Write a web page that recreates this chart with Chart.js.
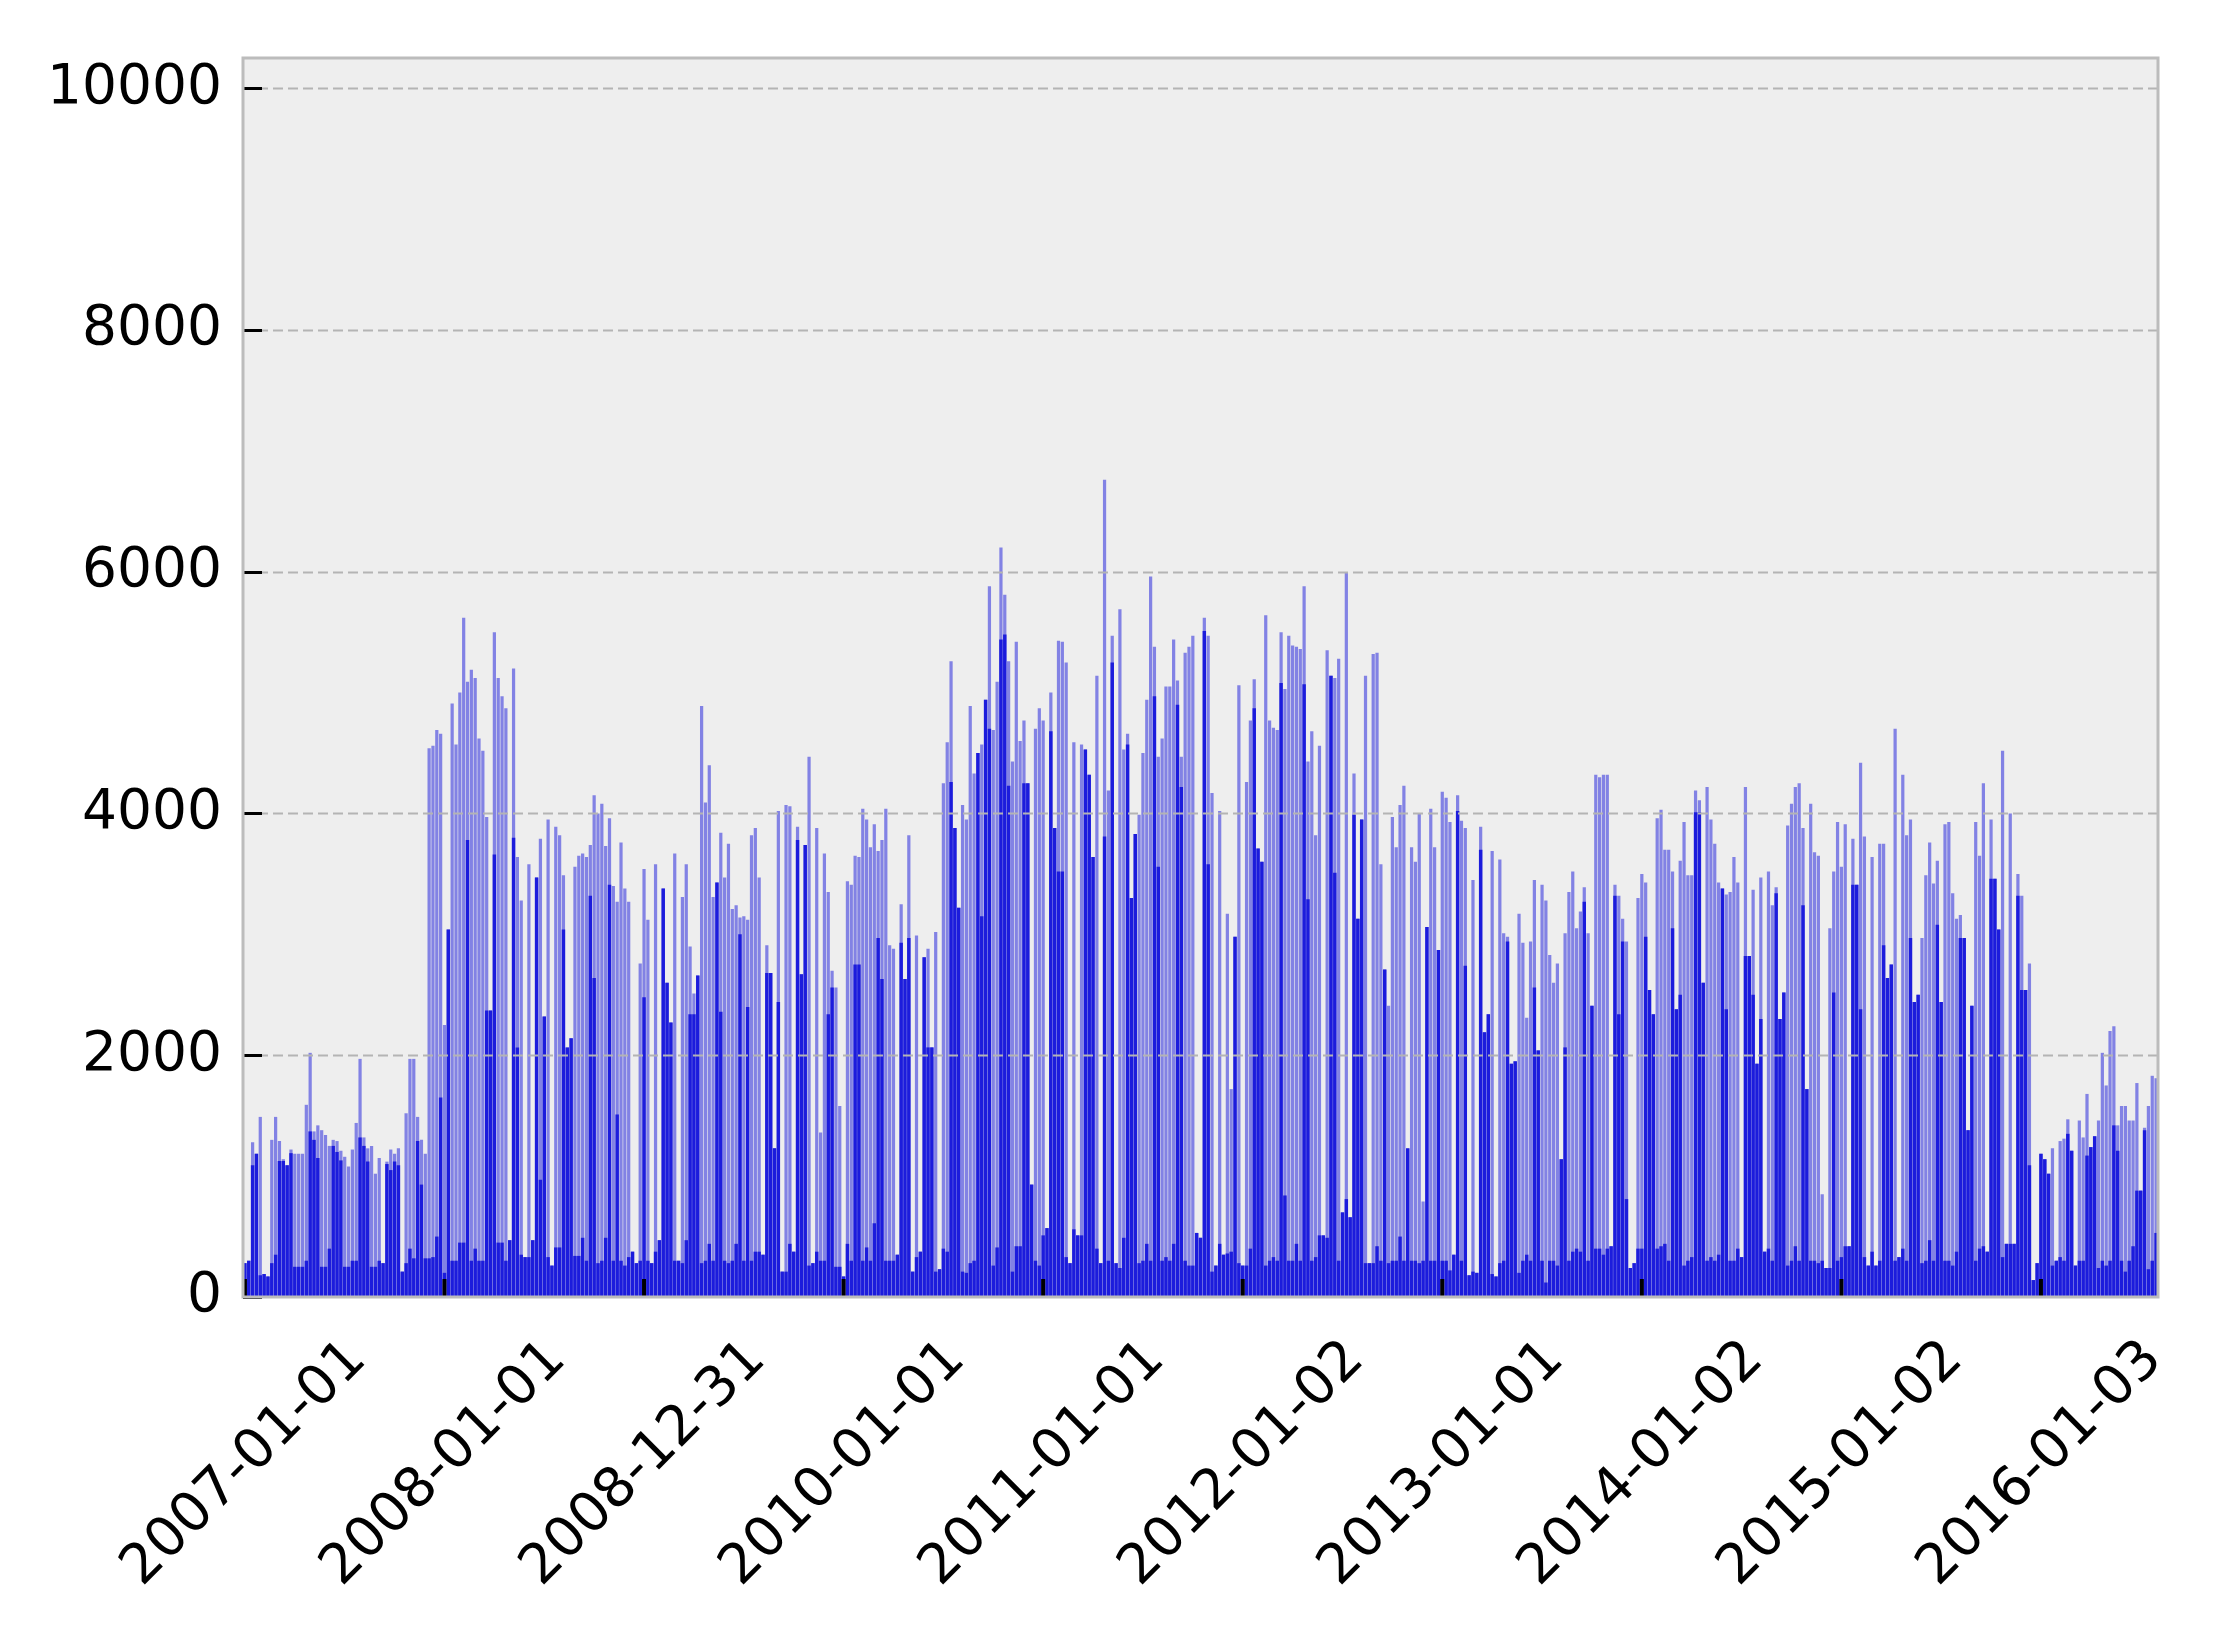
<!DOCTYPE html>
<html>
<head>
<meta charset="utf-8">
<script src="https://cdn.jsdelivr.net/npm/chart.js@4.4.1/dist/chart.umd.min.js"></script>
<style>
html,body{margin:0;padding:0;background:#ffffff;}
#wrap{width:2220px;height:1638px;}
</style>
</head>
<body>
<div id="wrap"><canvas id="c" width="2220" height="1638"></canvas></div>
<script>
// x tick labels (one every 52 weekly bars)
const tickLabels = ["2007-01-01","2008-01-01","2008-12-31","2010-01-01","2011-01-01",
                    "2012-01-02","2013-01-01","2014-01-02","2015-01-02","2016-01-03"];
const tickEvery = 52;
const yTicks = [0, 2000, 4000, 6000, 8000, 10000];

// peak (light) value of each bar
const peakValues = [
280,300,1280,1185,1490,190,170,1300,1490,1290,1140,1090,1220,1185,1185,1185,1590,2020,1370,1420,
1380,1340,1250,1300,1290,1210,1160,1080,1220,1440,1970,1320,1230,1250,1020,1150,280,1120,1220,1185,
1230,210,1520,1970,1970,1490,1300,1185,4540,4560,4690,4660,2250,3040,4910,4570,5000,5620,5090,5190,
5120,4620,4520,3970,2370,5500,5120,4970,4870,470,5200,
3640,3280,330,3580,470,3470,3790,2320,3950,260,3890,3820,3490,2065,2140,3560,3650,3670,3640,3740,
4150,4000,4080,3730,3960,3400,3270,3760,3380,3270,375,280,2760,3540,3120,280,3580,470,3380,2600,
2270,3670,300,3310,3580,2900,2510,2660,4890,4090,4400,3310,3430,3840,3470,3750,3210,3240,3140,3150,
3120,3820,3880,3470,350,2910,2680,1230,4020,210,4070,
4060,375,3890,2670,3740,4470,280,3880,1360,3670,3350,2700,2560,1580,170,3440,3410,3650,3640,4040,
3950,3720,3910,3690,3780,4040,2910,2880,350,3250,2630,3820,210,2990,375,2810,2880,2065,3020,230,
4250,4590,5260,3880,3220,4070,3950,4890,4330,4500,4570,4940,5880,4690,5090,6200,5810,5260,4430,5420,
4600,4770,4250,930,4700,4870,4770,570,5000,3880,5430,
5420,5250,280,4590,510,4570,4530,4320,3640,5140,280,6760,4190,5470,280,5690,4530,4660,3300,3830,
3990,4500,4940,5960,5380,4470,4620,5050,5050,5440,5100,4470,5330,5380,5470,530,490,5620,5470,4170,
260,4020,350,3170,1720,2980,5060,260,4260,4770,5110,3710,3600,5640,4770,4710,4690,5500,5030,5470,
5390,5380,5360,5880,4430,4680,3820,4560,510,5350,5140,
5120,5280,700,5990,660,4330,3130,3950,5140,280,5320,5330,3580,2710,2410,3970,3720,4070,4230,1230,
3720,3600,4000,790,3060,4040,3720,2870,4180,4130,3930,350,4150,3940,3880,180,3450,200,3890,2190,
2340,3690,170,3620,3010,2980,1930,1950,3170,2930,2310,2940,3450,2040,3410,3280,2830,2600,2760,1140,
3010,3350,3520,3050,3190,3390,3010,2410,4320,4300,4320,
4320,420,3410,3320,3130,2940,240,280,3300,3500,3430,2540,2340,3960,4030,3700,3700,3520,2380,3610,
3930,3490,3490,4190,4110,2600,4220,3950,3750,3430,3380,3330,3350,3640,3430,330,4220,2820,3370,1930,
3470,375,3520,3240,3390,2300,2520,3900,4080,4220,4250,3880,1720,4080,3680,3650,850,240,3050,3520,
3930,3560,3910,420,3790,3410,4420,3810,260,3640,260,3750,
3750,2640,2750,4700,330,4320,3820,3950,2440,2500,2970,3490,3760,3420,3610,2440,3910,3930,3340,3130,
3160,2970,1380,2410,3930,3650,4250,375,3950,3460,3040,4520,440,4000,440,3500,3320,2540,2760,140,
280,1185,1140,1020,1230,300,1290,1310,1470,1210,260,1460,1320,1680,1240,1330,1460,2020,1750,2200,
2240,1420,1580,1580,1460,1460,1770,880,1400,1580,1830,1810
];

// dense (dark) part of each bar
const baseValues = [
280,300,1090,1185,180,190,170,280,350,1125,1125,1090,1190,250,250,250,300,1370,1300,1150,
250,250,400,1250,1200,1130,250,250,300,300,1320,1250,1120,250,250,300,280,1100,1050,1120,
1090,210,280,400,320,1290,930,320,320,330,500,1650,200,3040,300,300,450,450,3780,300,
400,300,300,2370,2370,3660,450,450,300,470,3800,
2065,350,330,330,470,3470,970,2320,330,260,410,410,3040,2065,2140,340,340,490,300,3320,
2640,280,300,490,3410,300,1510,300,260,330,375,280,300,2480,300,280,375,470,3380,2600,
2270,300,300,280,470,2340,2340,2660,280,300,440,300,3430,2360,300,280,300,440,3000,300,
2400,300,375,375,350,2680,2680,1230,2440,210,210,
440,375,3780,2670,3740,260,280,375,300,300,2340,2560,250,250,170,440,300,2750,2750,300,
410,300,610,2970,2630,300,300,300,350,2930,2630,2970,210,330,375,2810,2065,2065,210,230,
400,375,4260,3880,3220,210,200,280,300,4500,3150,4940,4700,260,410,5440,5480,4230,210,420,
420,4250,4250,930,300,260,510,570,4680,3880,3520,
3520,330,280,560,510,510,4530,4320,3640,400,280,3810,300,5250,280,240,490,4570,3300,3830,
280,300,440,300,4970,3560,300,330,300,440,4900,4220,300,260,260,530,490,5510,3580,210,
260,440,350,360,375,2980,280,260,260,400,4870,3710,3600,260,300,330,300,5080,840,300,
300,440,300,5070,3290,300,330,510,510,490,5140,
3510,300,700,810,660,3990,3130,3950,280,280,280,420,300,2710,280,300,300,500,300,1230,
300,300,280,300,3060,300,300,2870,300,300,220,350,4020,300,2740,180,210,200,3700,2190,
2340,190,170,280,300,2940,1930,1950,200,300,350,300,2560,2040,300,120,300,300,260,1140,
2065,300,375,400,375,3270,300,2410,400,400,350,
400,420,3320,2340,2940,810,240,280,400,400,2980,2540,2340,400,420,440,300,3050,2380,2500,
260,300,330,4010,4010,2600,300,330,300,350,3380,2380,300,300,400,330,2820,2820,2500,1930,
2300,375,400,300,3340,2300,2520,260,300,420,300,3240,1720,300,300,280,300,240,240,2520,
300,330,420,420,3410,3410,2380,330,260,375,260,300,
2910,2640,2750,300,330,400,300,2970,2440,2500,280,300,470,300,3080,2440,300,300,260,375,
2970,2970,1380,2410,300,400,420,375,3460,3460,3040,330,440,440,440,3320,2540,2540,1090,140,
280,1185,1140,1020,260,300,330,300,1350,1210,260,300,300,1170,1240,1330,240,300,260,300,
1420,1210,300,210,300,420,880,880,1380,230,300,530
];

const categories = peakValues.map((_, i) => i);

const FONT = '"DejaVu Sans", "Liberation Sans", sans-serif';

const decorPlugin = {
  id: 'decor',
  beforeDatasetsDraw(chart) {
    const {ctx, chartArea: a} = chart;
    ctx.save();
    ctx.fillStyle = '#eeeeee';
    ctx.fillRect(a.left, a.top, a.right - a.left, a.bottom - a.top);
    ctx.restore();
  },
  afterDatasetsDraw(chart) {
    const {ctx, chartArea: a, scales} = chart;
    const ys = scales.y, xs = scales.x;
    ctx.save();
    // dashed horizontal grid
    ctx.strokeStyle = '#b4b4b4';
    ctx.lineWidth = 2;
    ctx.setLineDash([10, 5]);
    yTicks.forEach(v => {
      if (v === 0) return;
      const py = Math.round(ys.getPixelForValue(v)) + 0.5;
      ctx.beginPath(); ctx.moveTo(a.left, py); ctx.lineTo(a.right, py); ctx.stroke();
    });
    ctx.setLineDash([]);
    // inward tick marks
    ctx.strokeStyle = '#000000';
    ctx.lineWidth = 3;
    yTicks.forEach(v => {
      const py = Math.round(ys.getPixelForValue(v)) + 0.5;
      ctx.beginPath(); ctx.moveTo(a.left, py); ctx.lineTo(a.left + 19, py); ctx.stroke();
    });
    ctx.lineWidth = 4;
    tickLabels.forEach((lab, k) => {
      const px = xs.getPixelForValue(k * tickEvery);
      ctx.beginPath(); ctx.moveTo(px, a.bottom); ctx.lineTo(px, a.bottom - 18); ctx.stroke();
    });
    // frame
    ctx.strokeStyle = '#bcbcbc';
    ctx.lineWidth = 3;
    ctx.strokeRect(a.left, a.top, a.right - a.left, a.bottom - a.top);
    ctx.restore();
  },
  afterDraw(chart) {
    const {ctx, chartArea: a, scales} = chart;
    const xs = scales.x;
    ctx.save();
    ctx.font = '55px ' + FONT;
    ctx.fillStyle = '#000000';
    ctx.textAlign = 'center';
    ctx.textBaseline = 'middle';
    const capH = 40;
    tickLabels.forEach((lab, k) => {
      const px = xs.getPixelForValue(k * tickEvery);
      const w = ctx.measureText(lab).width;
      const cy = a.bottom + 40 + (w + capH) * Math.SQRT1_2 / 2;
      ctx.save();
      ctx.translate(px, cy);
      ctx.rotate(-Math.PI / 4);
      ctx.fillText(lab, 0, 0);
      ctx.restore();
    });
    ctx.restore();
  }
};

new Chart(document.getElementById('c'), {
  type: 'bar',
  data: {
    labels: categories,
    datasets: [
      {
        label: 'base',
        data: baseValues,
        backgroundColor: '#1c1cdc',
        borderWidth: 0,
        barPercentage: 0.9,
        categoryPercentage: 1.0,
        grouped: false,
        order: 0
      },
      {
        label: 'peak',
        data: peakValues,
        backgroundColor: '#8282e4',
        borderWidth: 0,
        barPercentage: 0.84,
        categoryPercentage: 1.0,
        grouped: false,
        order: 1
      }
    ]
  },
  options: {
    responsive: false,
    animation: false,
    devicePixelRatio: 1,
    layout: { padding: { left: 0, top: 58, right: 62, bottom: 0 } },
    plugins: { legend: { display: false }, tooltip: { enabled: false } },
    scales: {
      x: {
        type: 'category',
        offset: true,
        grid: { display: false },
        border: { display: false },
        ticks: { display: false },
        afterFit(scale) { scale.height = 341; }
      },
      y: {
        min: 0,
        max: 10250,
        grid: { display: false, drawTicks: false },
        border: { display: false },
        afterBuildTicks(scale) { scale.ticks = yTicks.map(v => ({ value: v })); },
        ticks: {
          padding: 21,
          color: '#000000',
          font: { family: FONT, size: 55 },
          callback: (v) => String(v)
        },
        afterFit(scale) { scale.width = 243; }
      }
    }
  },
  plugins: [decorPlugin]
});
</script>
</body>
</html>
